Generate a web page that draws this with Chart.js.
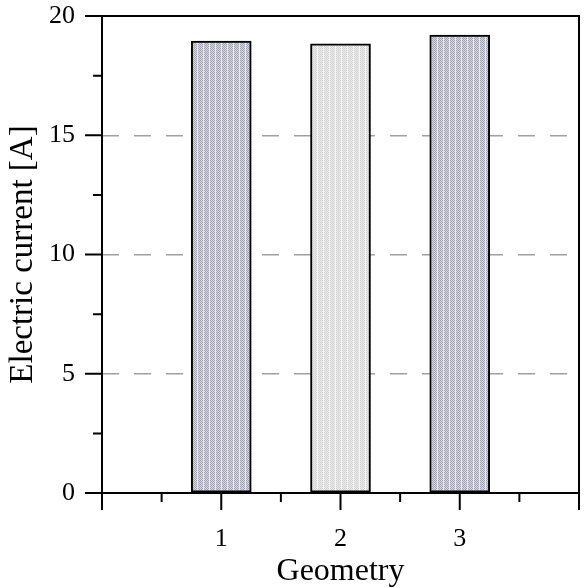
<!DOCTYPE html>
<html>
<head>
<meta charset="utf-8">
<script src="https://cdn.jsdelivr.net/npm/chart.js@4.4.1/dist/chart.umd.min.js"></script>
<style>
  body { margin: 0; background: #fff; }
  #wrap { width: 587px; height: 588px; }
</style>
</head>
<body>
<div id="wrap"><canvas id="chart" width="587" height="588"></canvas></div>
<script>
const geometries = [1, 2, 3];
const currents = [18.95, 18.83, 19.2];
const yTicksMajor = [0, 5, 10, 15, 20];

// dotted fill like the original's hatch
function makePattern(dark, light, stripe) {
  const c = document.createElement("canvas");
  c.width = 6;
  c.height = 4;
  const g = c.getContext("2d");
  for (let i = 0; i < 6; i++) {
    for (let j = 0; j < 4; j++) {
      let col = (i + j) % 2 === 0 ? dark : light;
      if (i === 5) col = stripe;
      g.fillStyle = col;
      g.fillRect(i, j, 1, 1);
    }
  }
  return g.createPattern(c, "repeat");
}

const blueFill = makePattern("#a4a4b4", "#d6d6de", "#e8e8ee");
const greyFill = makePattern("#d2d2d2", "#ececec", "#f6f6f6");

const axesFrame = {
  id: "axesFrame",
  afterDatasetsDraw(chart) {
    const { ctx, chartArea: a, scales: { x, y } } = chart;
    ctx.save();
    ctx.strokeStyle = "#000";
    ctx.lineWidth = 2;
    ctx.strokeRect(a.left, a.top, a.right - a.left, a.bottom - a.top);
    ctx.beginPath();
    x.ticks.forEach((t) => {
      const px = x.getPixelForValue(t.value);
      const len = Number.isInteger(t.value) ? 17 : 9;
      ctx.moveTo(px, a.bottom);
      ctx.lineTo(px, a.bottom + len);
    });
    y.ticks.forEach((t) => {
      const py = y.getPixelForValue(t.value);
      const len = yTicksMajor.includes(t.value) ? 17 : 9;
      ctx.moveTo(a.left, py);
      ctx.lineTo(a.left - len, py);
    });
    ctx.stroke();
    ctx.restore();
  },
};

const serif = "'Liberation Serif', 'Times New Roman', serif";

new Chart(document.getElementById("chart"), {
  type: "bar",
  data: {
    datasets: [
      {
        data: geometries.map((g, i) => ({ x: g, y: currents[i] })),
        backgroundColor: [blueFill, greyFill, blueFill],
        borderColor: "#000",
        borderWidth: 2,
        borderSkipped: false,
        barThickness: 60,
      },
    ],
  },
  options: {
    responsive: false,
    animation: false,
    layout: { padding: { top: 16, right: 8, left: 0, bottom: 0 } },
    plugins: { legend: { display: false }, tooltip: { enabled: false } },
    scales: {
      x: {
        type: "linear",
        offset: false,
        min: 0,
        max: 4,
        afterFit: (s) => {
          s.height = 95;
          s.paddingLeft = 0;
          s.paddingRight = 0;
        },
        grid: { display: false, drawTicks: false, offset: false },
        border: { display: false },
        ticks: {
          stepSize: 0.5,
          padding: 31,
          autoSkip: false,
          maxRotation: 0,
          color: "#000",
          font: { family: serif, size: 26 },
          callback: (v) => (geometries.includes(v) ? String(v) : ""),
        },
        title: {
          display: true,
          text: "Geometry",
          color: "#000",
          font: { family: serif, size: 32 },
          padding: { top: 0, bottom: -3 },
        },
      },
      y: {
        min: 0,
        max: 20,
        afterFit: (s) => {
          s.width = 102;
          s.paddingTop = 0;
          s.paddingBottom = 0;
        },
        grid: {
          drawTicks: false,
          color: (c) => (c.tick && [5, 10, 15].includes(c.tick.value) ? "#a0a0a0" : "transparent"),
          lineWidth: 1.5,
        },
        border: { display: false, dash: [17, 15] },
        ticks: {
          stepSize: 2.5,
          padding: 27,
          autoSkip: false,
          color: "#000",
          font: { family: serif, size: 26 },
          callback: (v) => (yTicksMajor.includes(v) ? String(v) : ""),
        },
        title: {
          display: true,
          text: "Electric current [A]",
          color: "#000",
          font: { family: serif, size: 33 },
          padding: { top: 4, bottom: 0 },
        },
      },
    },
  },
  plugins: [axesFrame],
});
</script>
</body>
</html>
